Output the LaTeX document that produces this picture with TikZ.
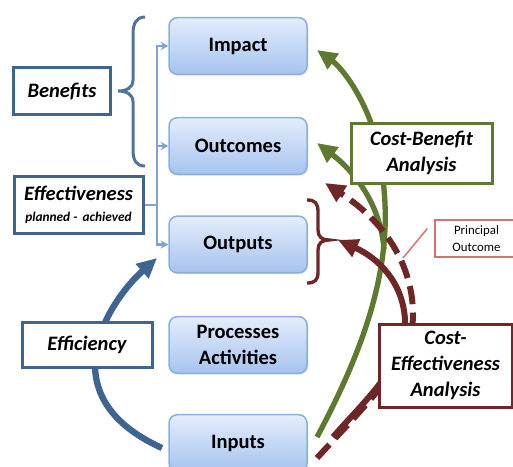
\documentclass[tikz,border=0pt]{standalone}
\usepackage{fontspec}
\setmainfont{Carlito}
\usetikzlibrary{arrows.meta,calc,shadows}
\definecolor{boxline}{HTML}{8AAEDF}
\definecolor{boxtop}{HTML}{E4EDFC}
\definecolor{boxbot}{HTML}{A6C3EE}
\definecolor{dblue}{HTML}{3E6492}
\definecolor{lblue}{HTML}{7FA2D3}
\definecolor{dgreen}{HTML}{5E7A30}
\definecolor{dred}{HTML}{6E2626}
\definecolor{pinkred}{HTML}{D27474}

\begin{document}
\begin{tikzpicture}[x=0.6pt,y=-0.6pt,
    lvl/.style={draw=boxline,line width=0.9pt,rounded corners=5pt,top color=boxtop,bottom color=boxbot,
        minimum width=82.8pt,minimum height=34pt,align=center,inner sep=1pt,
        drop shadow={opacity=0.2,shadow xshift=0.8pt,shadow yshift=-0.8pt},
        font=\fontsize{12.3}{15.5}\selectfont\bfseries},
    lab/.style={draw=#1,line width=1.8pt,fill=white,align=center,inner sep=1pt,
        drop shadow={opacity=0.2,shadow xshift=1pt,shadow yshift=-1pt},
        font=\fontsize{12.3}{15.5}\selectfont\bfseries\itshape},
    fat/.style={draw=#1,line width=3.2pt,-{Triangle[length=12pt,width=11pt]}},
    link/.style={draw=lblue,line width=1.4pt,-{Stealth[length=4.5pt,width=5pt]}}]
    \useasboundingbox (0,0) rectangle (513,466);
    \clip (0,0) rectangle (513,466);
    % levels
    \node[lvl] at (238,46) (impact) {Impact};
    \node[lvl] at (238,146) (outcomes) {Outcomes};
    \node[lvl] at (238,244.5) (outputs) {Outputs};
    \node[lvl] at (238,345) (proc) {Processes\\Activities};
    \node[lvl] at (238,443) (inputs) {Inputs};
    % benefits brace
    \draw[dblue!90!white,line width=1.8pt] (145,17) .. controls (136,17) and (133,24) .. (133,34) -- (133,80)
        .. controls (133,88) and (126,91) .. (118,91) .. controls (126,91) and (133,94) .. (133,102)
        -- (133,150) .. controls (133,160) and (136,166) .. (145,166);
    \node[lab=dblue,minimum width=58.2pt,minimum height=28.2pt] at (62,91) (ben) {Benefits};
    % effectiveness links
    \coordinate (j) at (157,205);
    \draw[lblue,line width=1.4pt] (143,205) -- (j);
    \draw[link] (j) |- (impact.west);
    \draw[link] (j) |- (outcomes.west);
    \draw[link] (j) |- (outputs.west);
    \node[lab=dblue,minimum width=77.4pt,minimum height=34.2pt] at (78.5,204.5) (eff)
        {Effectiveness\\[-3pt]{\fontsize{8}{9}\selectfont planned -\, achieved}};
    % efficiency
    \coordinate (e0) at (162,448);
    \coordinate (e1) at (157,258);
    \draw[fat=dblue,line width=3.8pt] (e0) .. controls (45,395) and (110,300) .. (e1);
    \node[lab=dblue,minimum width=78pt,minimum height=27pt] at (87,344.5) (effi) {Efficiency};
    % cost-benefit
    \coordinate (g0) at (317,437);
    \coordinate (gb) at (384,249);
    \coordinate (gi) at (317,50);
    \coordinate (go) at (317,143);
    \draw[fat=dgreen] (g0) .. controls (385,310) and (395,230) .. (378,150) .. controls (372,110) and (345,70) .. (gi);
    \draw[fat=dgreen] (gb) .. controls (380,200) and (350,168) .. (go);
    \node[lab=dgreen,minimum width=84.6pt,minimum height=36pt] at (421.5,153) (cb) {Cost-Benefit\\Analysis};
    % cost-effectiveness
    \coordinate (r0) at (333,437);
    \coordinate (d0) at (317,458);
    \coordinate (rb) at (338,240);
    \coordinate (do) at (325,183);
    \draw[fat=dred,line width=3.6pt] (r0) .. controls (370,395) and (405,365) .. (405,320) .. controls (403,282) and (378,258) .. (rb);
    \draw[fat=dred,line width=3.6pt,dash pattern=on 11pt off 5pt] (d0) .. controls (370,400) and (413,360) .. (413,315)
        .. controls (413,265) and (385,222) .. (do);
    \node[lab=dred,minimum width=79.8pt,minimum height=49.8pt] at (445.5,365.5) (ce) {Cost-\\Effectiveness\\Analysis};
    % outputs brace
    \draw[dred,line width=2pt] (307,200) .. controls (315,200) and (318,203) .. (318,212) -- (318,230)
        .. controls (318,237) and (322,240) .. (329,240) .. controls (322,240) and (318,243) .. (318,250)
        -- (318,272) .. controls (318,280) and (315,283) .. (307,283);
    % principal outcome
    \node[draw=pinkred,line width=0.8pt,fill=white,align=center,inner sep=1pt,minimum width=49.8pt,minimum height=22.2pt,
        font=\fontsize{7.7}{10}\selectfont] at (476.5,238.5) (pri) {Principal\\Outcome};
    \coordinate (p1) at (403,258);
    \draw[pinkred,line width=0.9pt] ($(pri.west)+(-7,-10)$) -- (p1);
\end{tikzpicture}
\end{document}
